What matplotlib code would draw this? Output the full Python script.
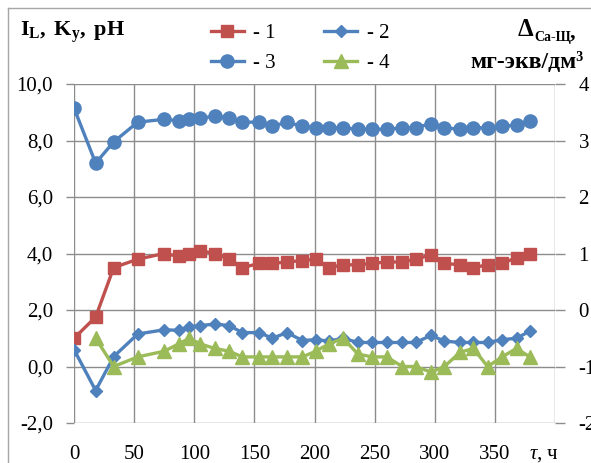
import matplotlib
matplotlib.use('Agg')
import matplotlib.pyplot as plt
from matplotlib.lines import Line2D
from matplotlib.ticker import FuncFormatter, MultipleLocator

plt.rcParams['font.family'] = ['Liberation Serif', 'DejaVu Serif']
plt.rcParams['mathtext.fontset'] = 'custom'
plt.rcParams['mathtext.rm'] = 'Liberation Serif'
plt.rcParams['mathtext.it'] = 'Liberation Serif:italic'
plt.rcParams['mathtext.bf'] = 'Liberation Serif:bold'
plt.rcParams['axes.unicode_minus'] = False

# время, ч
tau = [0, 18, 33, 53, 75, 87, 96, 105, 117, 129, 140, 154, 165, 177, 190,
       201, 212, 224, 236, 248, 260, 273, 284, 297, 308, 321, 332, 344, 356, 368, 379]
# 1 - Ky
s1 = [1.0, 1.75, 3.5, 3.8, 4.0, 3.9, 4.0, 4.1, 4.0, 3.8, 3.5, 3.65, 3.65, 3.7, 3.75,
      3.8, 3.5, 3.6, 3.6, 3.65, 3.7, 3.7, 3.8, 3.95, 3.65, 3.6, 3.5, 3.6, 3.65, 3.85, 4.0]
# 2 - IL
s2 = [0.6, -0.85, 0.35, 1.15, 1.3, 1.28, 1.4, 1.45, 1.5, 1.45, 1.2, 1.2, 1.0, 1.2, 0.92,
      0.95, 0.9, 1.0, 0.85, 0.85, 0.85, 0.85, 0.85, 1.1, 0.9, 0.85, 0.85, 0.85, 0.95, 1.0, 1.25]
# 3 - pH
s3 = [9.15, 7.2, 7.95, 8.65, 8.75, 8.7, 8.75, 8.8, 8.85, 8.8, 8.65, 8.65, 8.5, 8.65, 8.5,
      8.45, 8.45, 8.45, 8.4, 8.4, 8.4, 8.45, 8.45, 8.6, 8.45, 8.4, 8.45, 8.45, 8.5, 8.55, 8.7]
# 4 - дельта Ca-Щ (правая ось), начиная с 18 ч
tau4 = tau[1:]
s4 = [-0.5, -1.0, -0.83, -0.73, -0.6, -0.5, -0.6, -0.68, -0.73, -0.83, -0.83, -0.83, -0.83, -0.83,
      -0.73, -0.6, -0.5, -0.78, -0.83, -0.83, -1.0, -1.0, -1.1, -1.0, -0.75, -0.68, -1.0, -0.83, -0.68, -0.83]

red = '#C0504D'
blue = '#4F81BD'
green = '#9BBB59'
gridc = '#8C8C8C'
fs = 15

fig = plt.figure(figsize=(5.91, 4.63), dpi=100)
ax = fig.add_axes([74/591, 1 - 423/463, (555 - 74)/591, (423 - 84)/463])
ax2 = ax.twinx()

l1, = ax.plot(tau, s1, color=red, lw=2.4, marker='s', ms=8.5, label='- 1', zorder=3)
l2, = ax.plot(tau, s2, color=blue, lw=2.4, marker='D', ms=6, label='- 2', zorder=3)
l3, = ax.plot(tau, s3, color=blue, lw=2.4, marker='o', ms=9.5, label='- 3', zorder=3)
l4, = ax2.plot(tau4, s4, color=green, lw=2.4, marker='^', ms=9.5, label='- 4', zorder=3)

ax.set_xlim(0, 400)
ax.set_ylim(-2, 10)
ax2.set_ylim(-2, 4)
ax.xaxis.set_major_locator(MultipleLocator(50))
ax.yaxis.set_major_locator(MultipleLocator(2))
ax2.yaxis.set_major_locator(MultipleLocator(1))
ax.xaxis.set_major_formatter(FuncFormatter(lambda v, p: '' if v >= 400 else f'{v:.0f}'))
ax.yaxis.set_major_formatter(FuncFormatter(lambda v, p: f'{v:.1f}'.replace('.', ',')))
ax2.yaxis.set_major_formatter(FuncFormatter(lambda v, p: f'{v:.0f}'))

ax.grid(True, color=gridc, lw=1)
for a in (ax, ax2):
    for sp in a.spines.values():
        sp.set_visible(False)
ax.tick_params(axis='y', length=6, width=1, color=gridc, pad=9, labelsize=fs)
ax2.tick_params(axis='y', length=7, width=1, color=gridc, pad=10, labelsize=fs)
ax.tick_params(axis='x', length=0, pad=16, labelsize=fs)

ax.annotate(r'$\tau$, ч', xy=(391, 0), xycoords=ax.get_xaxis_transform(),
            xytext=(0, -16), textcoords='offset points', ha='center', va='top', fontsize=fs)

# подписи осей
fig.text(20/591, 1 - 32/463, r'$\mathbf{I_L,\ K_y,\ pH}$', fontsize=fs + 1, va='center', ha='left')
fig.text(584/591, 1 - 62/463, 'мг-экв/дм³', fontsize=fs + 2, fontweight='bold', va='center', ha='right')
fig.text(533/591, 1 - 30/463, 'Δ', fontsize=fs + 3, fontweight='bold', va='center', ha='right')
fig.text(534/591, 1 - 37/463, 'Ca-Щ', fontsize=fs - 5, fontweight='bold', va='center', ha='left')
fig.text(570/591, 1 - 33/463, ',', fontsize=fs + 1, fontweight='bold', va='center', ha='left')

fig.legend(handles=[l1, l3, l2, l4], ncol=2, loc='center', bbox_to_anchor=(300/591, 1 - 48/463),
           frameon=False, fontsize=fs, handlelength=1.6, handletextpad=0.45,
           columnspacing=2.3, labelspacing=0.5)

# рамка области диаграммы
fig.add_artist(Line2D([8/591, 8/591], [0, 1 - 8/463], color='#A6A6A6', lw=1))
fig.add_artist(Line2D([8/591, 1], [1 - 8/463, 1 - 8/463], color='#A6A6A6', lw=1))

fig.savefig('out.png', dpi=100)
